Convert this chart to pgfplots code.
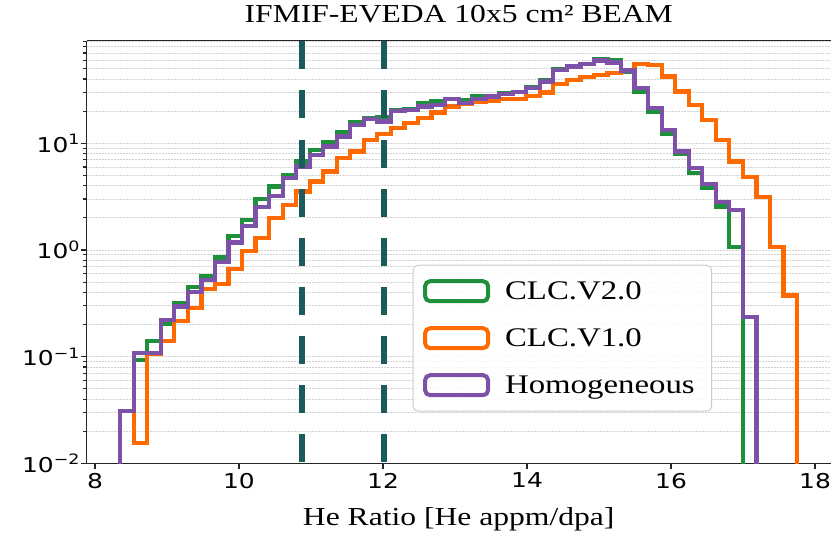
\documentclass[border=0pt]{standalone}
\usepackage{fontspec}
\setmainfont{Liberation Serif}[FakeStretch=1.22]
\newfontfamily\dejavu{DejaVu Sans}[FakeStretch=1.22]
\usepackage{pgfplots}
\usepackage{pgfplotstable}
\pgfplotsset{compat=1.18}
\definecolor{cgreen}{HTML}{1E8F3A}
\definecolor{corange}{HTML}{FF6A00}
\definecolor{cpurple}{HTML}{7E51A8}
\definecolor{cteal}{HTML}{1B5B5E}
\definecolor{cgrid}{HTML}{D2D2D2}

\pgfplotstableread{
x y
8.350 0.001
8.350 0.031
8.538 0.0933
8.726 0.1416
8.914 0.203
9.102 0.316
9.290 0.451
9.478 0.566
9.666 0.852
9.854 1.341
10.042 1.894
10.230 2.98
10.418 3.93
10.606 5.06
10.794 6.74
10.982 8.67
11.170 10.24
11.358 12.6
11.546 15.8
11.734 17.2
11.922 17.5
12.110 20.6
12.298 20.9
12.486 23.8
12.674 24.6
12.862 25.9
13.050 25.5
13.238 27.8
13.426 27.4
13.614 29.5
13.802 30.3
13.990 33.4
14.178 39.3
14.366 49.5
14.554 52.0
14.742 55.5
14.930 61.8
15.118 60.5
15.306 47.0
15.494 30.5
15.682 19.8
15.870 12.25
16.058 7.95
16.246 5.25
16.434 3.78
16.622 2.55
16.810 1.076
16.998 1.076
16.998 0.001
}\greentab

\pgfplotstableread{
x y
8.350 0.001
8.350 0.031
8.538 0.01546
8.726 0.107
8.914 0.1397
9.102 0.2165
9.290 0.2847
9.478 0.432
9.666 0.481
9.854 0.665
10.042 0.977
10.230 1.29
10.418 1.99
10.606 2.65
10.794 3.53
10.982 4.38
11.170 5.43
11.358 7.25
11.546 8.36
11.734 10.76
11.922 12.3
12.110 13.85
12.298 15.6
12.486 17.2
12.674 19.4
12.862 22.1
13.050 23.4
13.238 24.6
13.426 24.9
13.614 25.9
13.802 26.1
13.990 27.8
14.178 29.9
14.366 35.8
14.554 39.3
14.742 41.6
14.930 43.8
15.118 45.4
15.306 48.2
15.494 55.1
15.682 54.3
15.870 42.2
16.058 30.5
16.246 22.9
16.434 16.6
16.622 10.76
16.810 6.74
16.998 4.79
17.186 3.13
17.374 1.076
17.562 0.374
17.750 0.374
17.750 0.001
}\orangetab

\pgfplotstableread{
x y
8.350 0.001
8.350 0.0312
8.538 0.109
8.726 0.109
8.914 0.221
9.102 0.295
9.290 0.407
9.478 0.525
9.666 0.778
9.854 1.178
10.042 1.682
10.230 2.51
10.418 3.18
10.606 4.76
10.794 6.05
10.982 7.79
11.170 9.31
11.358 11.56
11.546 14.7
11.734 16.8
11.922 16.0
12.110 20.1
12.298 20.6
12.486 22.1
12.674 22.9
12.862 25.9
13.050 23.8
13.238 25.9
13.426 27.4
13.614 28.9
13.802 30.1
13.990 32.8
14.178 37.9
14.366 48.4
14.554 52.3
14.742 55.5
14.930 59.6
15.118 57.1
15.306 48.0
15.494 32.8
15.682 21.3
15.870 13.35
16.058 8.36
16.246 5.84
16.434 4.16
16.622 2.84
16.810 2.38
16.998 0.2376
17.186 0.2376
17.186 0.001
}\purpletab

\newcommand\tickfont{\dejavu\fontsize{20.5}{20.5}\selectfont}
\newcommand\labfont{\fontsize{26}{30}\selectfont}

\begin{document}
\begin{tikzpicture}
\begin{axis}[
  at={(0,0)}, anchor=south west, scale only axis,
  width=744.5bp, height=423bp,
  xmin=7.882, xmax=18.222,
  ymode=log, ymin=0.01, ymax=91.7,
  axis x line*=box, axis y line*=left,
  axis line style={-, line width=1.3bp, black!85},
  xtick={8,10,12,14,16,18}, xticklabels={8,10,12,14,16,18},
  ytick={0.01,0.1,1,10},
  yticklabels={10\textsuperscript{−2},10\textsuperscript{−1},10\textsuperscript{0},10\textsuperscript{1}},
  minor ytick={0.02,0.03,0.04,0.05,0.06,0.07,0.08,0.09,0.2,0.3,0.4,0.5,0.6,0.7,0.8,0.9,2,3,4,5,6,7,8,9,20,30,40,50,60,70,80,90},
  xtick pos=left, ytick pos=left, tick align=outside,
  major tick length=6bp, minor tick length=3.5bp,
  tick style={black!85, line width=1.2bp},
  ymajorgrids, yminorgrids,
  major grid style={cgrid, line width=0.8bp, dash pattern=on 2bp off 1bp},
  minor grid style={cgrid, line width=0.8bp, dash pattern=on 2bp off 1bp},
  xticklabel style={font=\tickfont},
  yticklabel style={font=\tickfont, xshift=3bp},
  title={IFMIF-EVEDA 10x5 cm² BEAM},
  title style={font=\labfont, at={(0.5,1)}, anchor=base, yshift=12bp},
  xlabel={He Ratio [He appm/dpa]},
  xlabel style={font=\labfont, at={(0.5,0)}, anchor=base, yshift=-62bp},
  legend style={at={(0.438,0.470)}, anchor=north west,
    draw=black!20, line width=1bp, rounded corners=5bp, fill=white, fill opacity=0.85, text opacity=1,
    font=\fontsize{27}{30}\selectfont, inner xsep=10bp, inner ysep=14bp,
    nodes={inner sep=0bp}, column sep=15bp, row sep=23bp},
  legend cell align=left,
  legend image code/.code={\draw[#1, line width=4bp] (0bp,-10bp) rectangle (63bp,10bp);},
]
\addplot[const plot, draw=cgreen, line width=4.2bp] table[x=x,y=y] {\greentab};
\addlegendentry{CLC.V2.0}
\addplot[const plot, draw=corange, line width=4.2bp] table[x=x,y=y] {\orangetab};
\addlegendentry{CLC.V1.0}
\addplot[const plot, draw=cpurple, line width=4.2bp] table[x=x,y=y] {\purpletab};
\addlegendentry{Homogeneous\rule{7bp}{0pt}}
\addplot[draw=cteal, line width=6bp, dash pattern=on 28bp off 21bp, dash phase=47bp, forget plot] coordinates {(10.88,0.01) (10.88,91.7)};
\addplot[draw=cteal, line width=6bp, dash pattern=on 28bp off 21bp, dash phase=47bp, forget plot] coordinates {(12.02,0.01) (12.02,91.7)};
\end{axis}
\pgfresetboundingbox
\path[use as bounding box] (-86.5bp,-70.5bp) rectangle (744.5bp,463.5bp);
\end{tikzpicture}
\end{document}
